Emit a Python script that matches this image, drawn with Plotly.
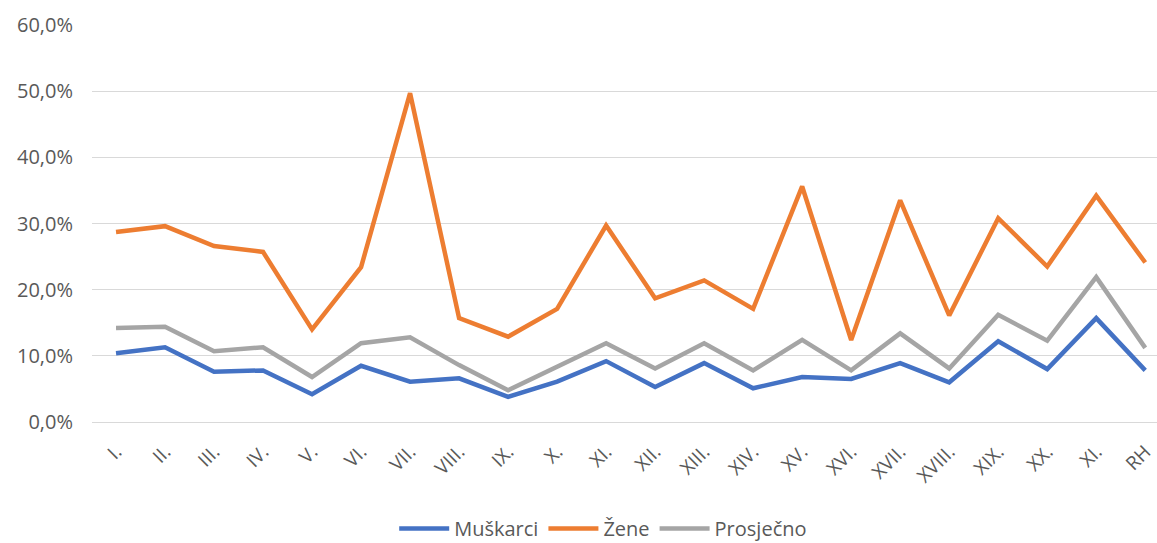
import plotly.graph_objects as go

# Categories (note: the second-to-last label is "XI." in the original)
labels = ["I.", "II.", "III.", "IV.", "V.", "VI.", "VII.", "VIII.", "IX.", "X.", "XI.",
          "XII.", "XIII.", "XIV.", "XV.", "XVI.", "XVII.", "XVIII.", "XIX.", "XX.", "XI.", "RH"]

muskarci = [10.4, 11.3, 7.6, 7.8, 4.2, 8.5, 6.1, 6.6, 3.8, 6.1, 9.2,
            5.3, 8.9, 5.1, 6.8, 6.5, 8.9, 6.0, 12.2, 8.0, 15.7, 7.8]
zene = [28.7, 29.6, 26.6, 25.7, 14.0, 23.4, 49.7, 15.7, 12.9, 17.1, 29.7,
        18.7, 21.4, 17.1, 35.6, 12.4, 33.5, 16.1, 30.8, 23.5, 34.2, 24.1]
prosjecno = [14.2, 14.4, 10.7, 11.3, 6.8, 11.9, 12.8, 8.6, 4.8, 8.4, 11.9,
             8.1, 11.9, 7.8, 12.4, 7.8, 13.4, 8.1, 16.2, 12.3, 21.9, 11.2]

x = list(range(len(labels)))

series = [
    ("Muškarci", muskarci, "#4472C4"),
    ("Žene", zene, "#ED7D31"),
    ("Prosječno", prosjecno, "#A5A5A5"),
]

fig = go.Figure()
for name, vals, color in series:
    fig.add_trace(go.Scatter(
        x=x, y=vals, mode="lines", name=name,
        line=dict(color=color, width=4.5),
    ))

font_family = "Open Sans"
fig.update_layout(
    width=1157, height=543,
    margin=dict(l=92, r=0, t=25, b=121, autoexpand=False),
    plot_bgcolor="white", paper_bgcolor="white",
    separators=",.",
    font=dict(family=font_family, color="#595959", size=16),
    showlegend=True,
    legend=dict(orientation="h", x=0.48, xanchor="center", y=-0.268, yanchor="middle",
                font=dict(size=20, color="#595959"), traceorder="normal",
                itemwidth=50),
    xaxis=dict(
        tickmode="array", tickvals=x, ticktext=labels, tickangle=-45,
        range=[-0.49, 21.24], showgrid=False, zeroline=False, showline=False,
        ticks="", tickfont=dict(size=19), ticklabelstandoff=14, automargin=False,
    ),
    yaxis=dict(
        range=[0, 60], dtick=10, tickformat=".1f", ticksuffix="%",
        showgrid=True, gridcolor="#D9D9D9", gridwidth=1.3,
        zeroline=True, zerolinecolor="#D9D9D9", zerolinewidth=1.3,
        showline=False, ticks="", ticklen=0, tickfont=dict(size=20),
        ticklabelstandoff=18, automargin=False,
    ),
)

page_fix = (
    "document.documentElement.style.margin='0';"
    "document.documentElement.style.overflow='hidden';"
    "document.body.style.margin='0';"
    "document.body.style.overflow='hidden';"
)
fig.write_html("out.html", config={"displayModeBar": False}, post_script=page_fix)
